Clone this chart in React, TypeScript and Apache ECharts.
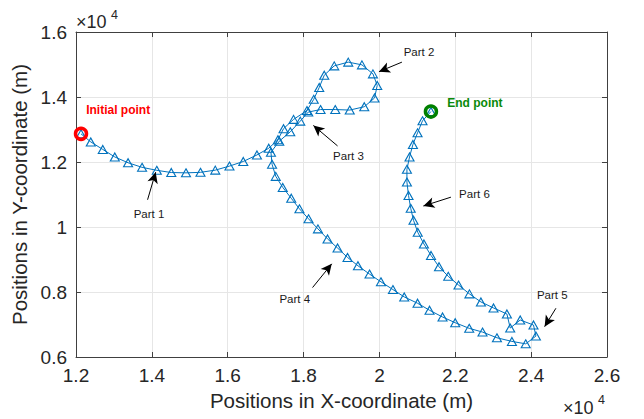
import React, { useEffect, useRef } from 'react';
import * as echarts from 'echarts';

// Trajectory (m)
const xPositions = [
  12132, 12390, 12706, 13023, 13373, 13742, 14130, 14512, 14900, 15282,
  15672, 16046, 16410, 16771, 17082, 17325, 17472, 17736, 18089, 18268,
  18413, 18545, 18809, 19178, 19539, 19829, 19942, 19871, 19600, 19217,
  18835, 18448, 18123, 17913, 17649, 17359, 17140, 17169, 17267, 17451,
  17675, 17891, 18131, 18379, 18632, 18896, 19159, 19434, 19739, 20040,
  20356, 20654, 21005, 21321, 21664, 21998, 22367, 22718, 23098, 23493,
  23857, 24126, 24062, 23712, 23448, 23361, 23008, 22676, 22373, 22085,
  21814, 21571, 21360, 21173, 21010, 20899, 20825, 20767, 20725, 20725,
  20794, 20883, 21005, 21136, 21358,
];
const yPositions = [
  12866, 12618, 12387, 12155, 11976, 11836, 11744, 11676, 11666, 11682,
  11750, 11874, 12016, 12217, 12424, 12686, 13026, 13311, 13583, 13929,
  14294, 14671, 14958, 15073, 14989, 14711, 14356, 13969, 13700, 13598,
  13614, 13614, 13536, 13258, 12928, 12640, 12300, 11929, 11558, 11218,
  10884, 10560, 10251, 9942, 9633, 9354, 9064, 8807, 8551, 8313,
  8075, 7849, 7654, 7438, 7231, 7055, 6882, 6767, 6591, 6480,
  6405, 6644, 6984, 7138, 6891, 7324, 7509, 7694, 7942, 8214,
  8483, 8776, 9126, 9478, 9837, 10207, 10575, 10971, 11382, 11775,
  12155, 12538, 12897, 13268, 13552,
];

// Annotations (data units)
const partLabels = ['Part 1', 'Part 2', 'Part 3', 'Part 4', 'Part 5', 'Part 6'];
const partLabelX = [13924, 21044, 19183, 17768, 24556, 22505];
const partLabelY = [10405, 15400, 12186, 7778, 7911, 11023];
const arrowTailX = [13887, 20593, 18896, 18237, 24653, 21885];
const arrowTailY = [10838, 15073, 12495, 8137, 7500, 10918];
const arrowTipX = [14101, 19987, 18258, 18743, 24355, 21158];
const arrowTipY = [11688, 14779, 13125, 8866, 6934, 10646];
const startLabel = 'Initial point';
const startLabelPos = [13112, 13598];
const endLabel = 'End point';
const endLabelPos = [22518, 13805];

const X_MIN = 12000, X_MAX = 26000, X_STEP = 2000;
const Y_MIN = 6000, Y_MAX = 16000, Y_STEP = 2000;

const FONT = '"Liberation Sans", Arial, Helvetica, sans-serif';
const AXIS_COLOR = '#404040';
const TEXT_COLOR = '#262626';
const LINE_BLUE = '#0072BD';

const fmt = (v: number) => String(Math.round(v / 1000) / 10);

export default function App() {
  const ref = useRef<HTMLDivElement>(null);
  useEffect(() => {
    document.body.style.margin = '0';
    const chart = echarts.init(ref.current!, null, { renderer: 'svg' });
    const trajectory = xPositions.map((x, i) => [x, yPositions[i]]);
    const n = trajectory.length;

    const baseAxis = {
      type: 'value' as const,
      axisLine: { show: true, onZero: false, lineStyle: { color: AXIS_COLOR, width: 1 } },
      axisTick: { show: true, inside: true, length: 5, lineStyle: { color: AXIS_COLOR, width: 1 } },
    };

    const labelData: any[] = partLabels.map((t, i) => ({
      value: [partLabelX[i], partLabelY[i]],
      label: { formatter: t, color: '#1a1a1a', fontSize: 11.5, fontWeight: 'normal' },
    }));
    labelData.push({
      value: startLabelPos,
      label: { formatter: startLabel, color: '#ff0000', fontSize: 12, fontWeight: 'bold' },
    });
    labelData.push({
      value: endLabelPos,
      label: { formatter: endLabel, color: '#0a8a0a', fontSize: 12, fontWeight: 'bold' },
    });

    const arrows = partLabels.map((_, i) => [
      { coord: [arrowTailX[i], arrowTailY[i]], symbol: 'none' },
      { coord: [arrowTipX[i], arrowTipY[i]], symbol: 'arrow', symbolSize: [8, 11] },
    ]);

    const option: any = {
      animation: false,
      backgroundColor: '#ffffff',
      textStyle: { fontFamily: FONT },
      grid: { left: 76, right: 37, top: 32, bottom: 62, containLabel: false },
      xAxis: [
        {
          ...baseAxis,
          position: 'bottom',
          min: X_MIN, max: X_MAX, interval: X_STEP,
          axisLabel: { formatter: fmt, color: TEXT_COLOR, fontSize: 19, fontFamily: FONT, margin: 9 },
          splitLine: { show: true, lineStyle: { color: '#e6e6e6', width: 1 } },
          name: 'Positions in X-coordinate (m)',
          nameLocation: 'middle',
          nameGap: 29,
          nameTextStyle: { color: TEXT_COLOR, fontSize: 20.5, fontFamily: FONT },
        },
        {
          ...baseAxis,
          position: 'top',
          min: X_MIN, max: X_MAX, interval: X_STEP,
          axisLabel: { show: false },
          splitLine: { show: false },
        },
      ],
      yAxis: [
        {
          ...baseAxis,
          position: 'left',
          min: Y_MIN, max: Y_MAX, interval: Y_STEP,
          axisLabel: { formatter: fmt, color: TEXT_COLOR, fontSize: 19, fontFamily: FONT, margin: 9 },
          splitLine: { show: true, lineStyle: { color: '#e6e6e6', width: 1 } },
          name: 'Positions in Y-coordinate (m)',
          nameLocation: 'middle',
          nameGap: 43,
          nameRotate: 90,
          nameTextStyle: { color: TEXT_COLOR, fontSize: 20.5, fontFamily: FONT },
        },
        {
          ...baseAxis,
          position: 'right',
          min: Y_MIN, max: Y_MAX, interval: Y_STEP,
          axisLabel: { show: false },
          splitLine: { show: false },
        },
      ],
      series: [
        {
          type: 'line',
          name: 'trajectory',
          xAxisIndex: 0,
          yAxisIndex: 0,
          data: trajectory,
          showAllSymbol: true,
          symbol: 'triangle',
          symbolSize: [9, 8],
          lineStyle: { color: LINE_BLUE, width: 1 },
          itemStyle: { color: 'rgba(255,255,255,0)', borderColor: LINE_BLUE, borderWidth: 1.1 },
          z: 3,
        },
        {
          type: 'scatter',
          name: 'endpoints',
          data: [
            { value: trajectory[0], itemStyle: { borderColor: '#ff0000' } },
            { value: trajectory[n - 1], itemStyle: { borderColor: '#008000' } },
          ],
          symbol: 'circle',
          symbolSize: 11,
          itemStyle: { color: 'rgba(255,255,255,0)', borderWidth: 3.5, opacity: 1 },
          z: 4,
        },
        {
          type: 'scatter',
          name: 'annotations',
          data: labelData,
          symbolSize: 1,
          itemStyle: { color: 'rgba(0,0,0,0)', opacity: 1 },
          label: { show: true, position: 'inside', fontFamily: FONT, textBorderWidth: 0, opacity: 1 },
          silent: true,
          z: 5,
          markLine: {
            silent: true,
            animation: false,
            label: { show: false },
            lineStyle: { color: '#000000', width: 1, type: 'solid', opacity: 1 },
            data: arrows,
          },
        },
      ],
      graphic: [
        { type: 'text', left: 76, top: 13, style: { text: '×10', fontSize: 18, fontFamily: FONT, fill: TEXT_COLOR } },
        { type: 'text', left: 111, top: 8, style: { text: '4', fontSize: 12.5, fontFamily: FONT, fill: TEXT_COLOR } },
        { type: 'text', left: 563, top: 399, style: { text: '×10', fontSize: 18, fontFamily: FONT, fill: TEXT_COLOR } },
        { type: 'text', left: 598, top: 393, style: { text: '4', fontSize: 12.5, fontFamily: FONT, fill: TEXT_COLOR } },
      ],
    };
    chart.setOption(option);
    return () => chart.dispose();
  }, []);
  return <div ref={ref} style={{ position: 'absolute', left: 0, top: 0, width: 644, height: 419 }} />;
}
